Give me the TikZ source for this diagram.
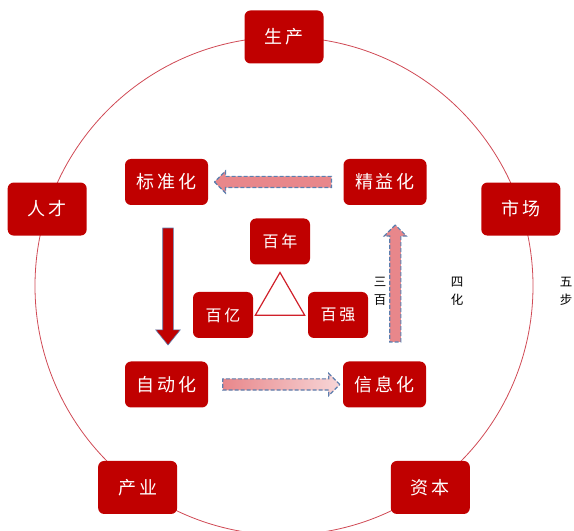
\documentclass[tikz,border=0pt]{standalone}
\usepackage{fontspec}
\usepackage{tikz}
\usetikzlibrary{shapes.arrows, shapes.geometric, calc}
\newfontfamily\cjk[LetterSpace=16]{Noto Sans CJK SC}
\newfontfamily\cjkplain{Noto Sans CJK SC}
\definecolor{boxred}{HTML}{C00000}
\definecolor{ringred}{HTML}{D04A55}
\definecolor{trired}{HTML}{D0202A}
\definecolor{arrowpink}{HTML}{E8878B}
\definecolor{arrowpale}{HTML}{F7D6D7}
\definecolor{dashblue}{HTML}{5B7FAF}

\begin{document}
\begin{tikzpicture}[
  x=1pt, y=1pt,
  outerbox/.style={rectangle, rounded corners=6pt, fill=boxred, text=white,
    minimum width=79pt, minimum height=53pt, inner sep=0pt,
    font=\cjk\fontsize{18}{21}\selectfont},
  flowbox/.style={rectangle, rounded corners=6pt, fill=boxred, text=white,
    minimum width=83pt, minimum height=46pt, inner sep=0pt,
    font=\cjk\fontsize{18}{21}\selectfont},
  hundbox/.style={rectangle, rounded corners=6pt, fill=boxred, text=white,
    minimum width=60pt, minimum height=46pt, inner sep=0pt,
    font=\cjk\fontsize{16}{19}\selectfont},
  tri/.style={regular polygon, regular polygon sides=3, draw=trired,
    line width=1.2pt, fill=white, minimum size=57pt, inner sep=0pt},
  ring/.style={draw=ringred, line width=0.8pt},
  softarrow/.style={single arrow, draw=dashblue, dash pattern=on 4pt off 2pt,
    line width=1.1pt, fill=arrowpink, inner sep=5pt,
    single arrow head extend=5.5pt, minimum height=117pt},
  hardarrow/.style={single arrow, draw=dashblue, line width=0.6pt,
    fill=boxred, inner sep=5pt, single arrow head extend=7pt,
    single arrow tip angle=78, minimum height=117pt},
  sidenote/.style={align=center, text=black, inner sep=0pt,
    font=\cjkplain\fontsize{12.5}{18}\selectfont}
]
\useasboundingbox (0,0) rectangle (574,531);

% ---- Outer ring ----
\coordinate (ctr) at (284,245);
\draw[ring] (ctr) circle[radius=249pt];
\foreach \ang/\nm/\txt in {90/sc/生产, 18/shc/市场, -54/zb/资本, -126/cy/产业, 162/rc/人才}
  \node[outerbox] (\nm) at ($(ctr)+(\ang:249)$) {\txt};

% ---- Four steps ----
\node[flowbox] (bzh) at (166.5,349) {标准化};
\node[flowbox] (jyh) at (385,349) {精益化};
\node[flowbox] (zdh) at (166.5,146.5) {自动化};
\node[flowbox] (xxh) at (384.5,146.5) {信息化};

% ---- Three hundreds ----
\node[hundbox] (bn) at (280,289.5) {百年};
\node[hundbox] (by) at (223,216) {百亿};
\node[hundbox] (bq) at (338,216) {百强};
\node[tri] (tri) at (280,230) {};

% ---- Block arrows ----
\node[softarrow, shape border rotate=180] (a1) at ($(jyh.west)!0.5!(bzh.east)$) {};
\node[hardarrow, shape border rotate=270] (a2) at ($(bzh.south)!0.5!(zdh.north)+(1.5,0)$) {};
\node[softarrow, left color=arrowpink, right color=arrowpale] (a3) at ($(zdh.east)!0.5!(xxh.west)+(3,0)$) {};
\node[softarrow, shape border rotate=90] (a4) at ($(xxh.north)!0.5!(jyh.south)+(10.5,-3)$) {};

% ---- Side notes ----
\node[sidenote] (n3) at (380,240) {三\\百};
\node[sidenote] (n4) at (457,240) {四\\化};
\node[sidenote] (n5) at (566,240) {五\\步};

\end{tikzpicture}
\end{document}
